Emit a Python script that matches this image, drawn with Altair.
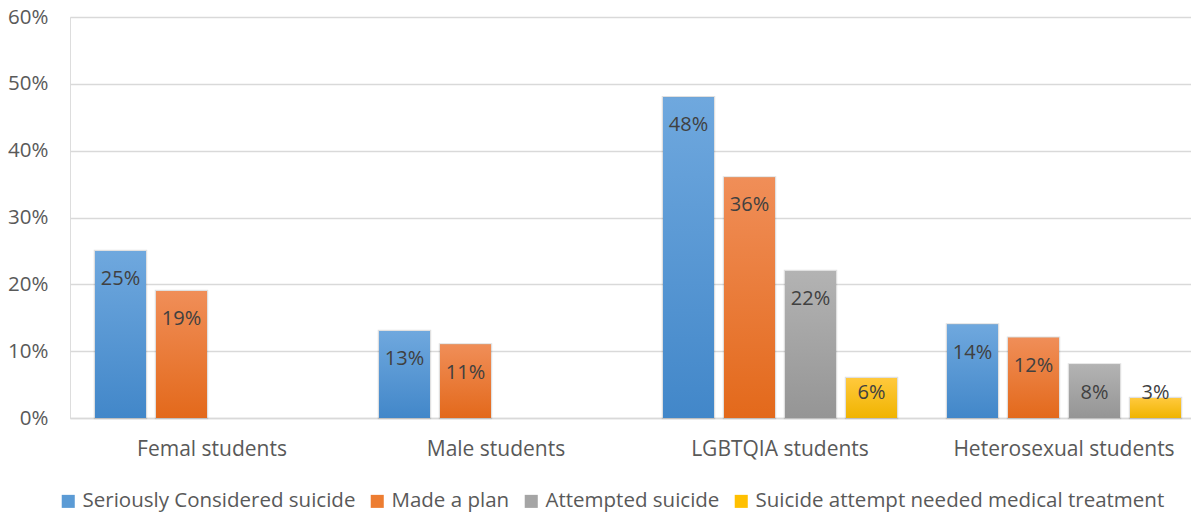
import altair as alt
import pandas as pd

groups = ["Femal students", "Male students", "LGBTQIA students", "Heterosexual students"]
series = ["Seriously Considered suicide", "Made a plan", "Attempted suicide",
          "Suicide attempt needed medical treatment"]
seriously = [0.25, 0.13, 0.48, 0.14]
plan = [0.19, 0.11, 0.36, 0.12]
attempted = [None, None, 0.22, 0.08]
medical = [None, None, 0.06, 0.03]
y_ticks = [0, 0.1, 0.2, 0.3, 0.4, 0.5, 0.6]

solid = ["#5B9BD5", "#ED7D31", "#A5A5A5", "#FFC000"]
grad_top = ["#6FA8DE", "#F08E58", "#B3B3B3", "#FFC93D"]
grad_bot = ["#4287C9", "#E3691B", "#959595", "#F0B400"]

rows = []
for s, vals in zip(series, [seriously, plan, attempted, medical]):
    for g, v in zip(groups, vals):
        if v is not None:
            rows.append({"group": g, "series": s, "value": v})
df = pd.DataFrame(rows)

FONT = "Open Sans"

x_enc = alt.X("group:N", sort=groups, title=None,
              scale=alt.Scale(range=[0, 1136], paddingInner=0.176, paddingOuter=0.088),
              axis=alt.Axis(labelAngle=0, ticks=False, domain=True, domainColor="#D9D9D9",
                            domainWidth=1.3, labelPadding=20, labelFontSize=21,
                            labelColor="#595959", labelFont=FONT, labelLimit=400))
xo_enc = alt.XOffset("series:N", sort=series,
                     scale=alt.Scale(paddingInner=0.164, paddingOuter=0))
y_axis = alt.Axis(values=y_ticks, format=".0%", ticks=False, domain=False,
                  gridColor="#D9D9D9", gridWidth=1.3, labelPadding=22,
                  labelFontSize=20.5, labelColor="#595959", labelFont=FONT)
y_scale = alt.Scale(domain=[0, 0.6], nice=False)
y_enc = alt.Y("value:Q", title=None, scale=y_scale, axis=y_axis)

base = alt.Chart(df).mark_bar(stroke="#000000", strokeOpacity=0.12, strokeWidth=2.5).encode(
    x=x_enc, xOffset=xo_enc, y=y_enc,
    color=alt.Color("series:N", sort=series,
                    scale=alt.Scale(domain=series, range=solid),
                    legend=alt.Legend(title=None, orient="none", direction="horizontal",
                                      legendX=-12, legendY=474, symbolType="square",
                                      symbolSize=170, symbolStrokeWidth=0,
                                      labelFontSize=20.5, labelColor="#595959",
                                      labelFont=FONT, columnPadding=11, labelOffset=4,
                                      labelLimit=600)),
)

layers = [base]
for i, s in enumerate(series):
    grad = alt.Gradient(gradient="linear", x1=0, x2=0, y1=0, y2=1,
                        stops=[alt.GradientStop(color=grad_top[i], offset=0),
                               alt.GradientStop(color=grad_bot[i], offset=1)])
    layers.append(
        alt.Chart(df).transform_filter(alt.datum.series == s)
        .mark_bar(fill=grad)
        .encode(x=x_enc, xOffset=xo_enc, y=y_enc)
    )

labels = alt.Chart(df).transform_calculate(
    ly="max(datum.value - 0.042, 0.0374)"
).mark_text(baseline="middle", align="center", fontSize=20, color="#404040", font=FONT).encode(
    x=x_enc, xOffset=xo_enc,
    y=alt.Y("ly:Q", title=None, scale=y_scale, axis=y_axis),
    text=alt.Text("value:Q", format=".0%"),
)
layers.append(labels)

chart = alt.layer(*layers).properties(
    width=1121, height=401,
    autosize=alt.AutoSizeParams(type="none"),
    padding={"left": 62, "top": 9, "right": 0, "bottom": 95},
).configure_view(stroke=None).configure(background="white")

chart.save("out.html", embed_options={"renderer": "svg", "actions": False})
